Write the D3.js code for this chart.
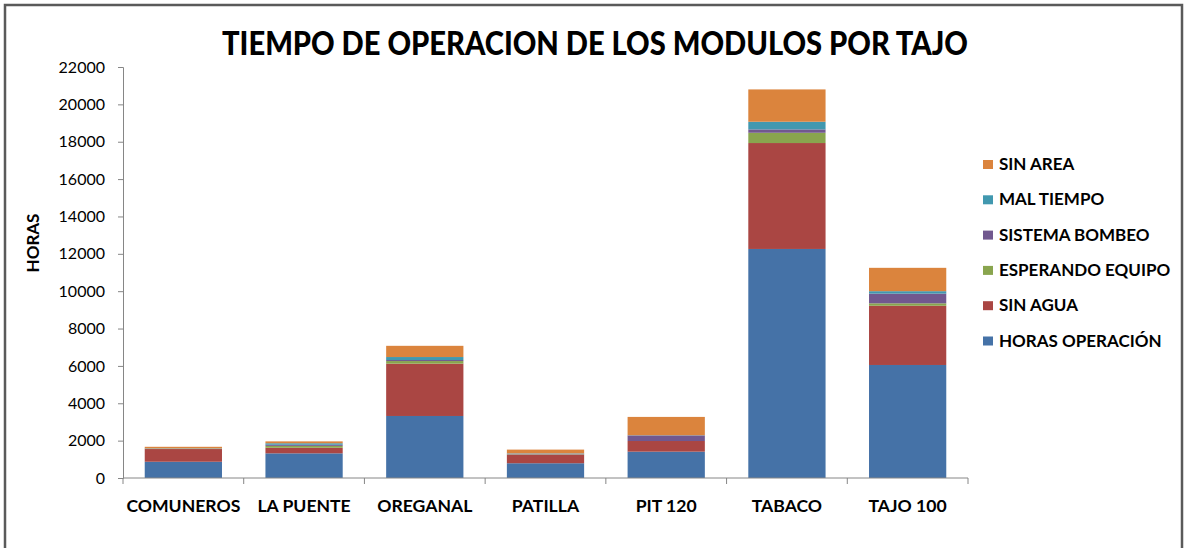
<!DOCTYPE html>
<html><head><meta charset="utf-8">
<script src="https://cdn.jsdelivr.net/npm/d3@7"></script>
<style>body{margin:0;background:#fff;} svg{display:block;font-family:Lato,"Open Sans",sans-serif;}</style>
</head><body>
<svg id="c" width="1186" height="548"></svg>
<script>
const categories = ["COMUNEROS","LA PUENTE","OREGANAL","PATILLA","PIT 120","TABACO","TAJO 100"];
const seriesNames = ["HORAS OPERACIÓN","SIN AGUA","ESPERANDO EQUIPO","SISTEMA BOMBEO","MAL TIEMPO","SIN AREA"];
const horasOperacion = [870, 1320, 3320, 790, 1410, 12260, 6050];
const sinAgua        = [680, 300, 2800, 460, 570, 5670, 3170];
const esperandoEquipo= [20, 100, 140, 20, 0, 550, 130];
const sistemaBombeo  = [10, 60, 55, 30, 300, 180, 520];
const malTiempo      = [10, 80, 160, 20, 10, 410, 130];
const sinArea        = [80, 100, 600, 200, 980, 1730, 1250];
const yTicks = [0,2000,4000,6000,8000,10000,12000,14000,16000,18000,20000,22000];
const colors = ["#4572A7","#AA4643","#89A54E","#71588F","#4198AF","#DB843D"];

const seriesValues = [horasOperacion, sinAgua, esperandoEquipo, sistemaBombeo, malTiempo, sinArea];
const rows = categories.map((c,i)=>{const r={cat:c}; seriesNames.forEach((s,j)=>r[s]=seriesValues[j][i]); return r;});
const stacked = d3.stack().keys(seriesNames)(rows);

const svg = d3.select("#c");
// outer frame
svg.append("rect").attr("x",5).attr("y",5).attr("width",1177).attr("height",560)
  .attr("fill","none").attr("stroke","#5a5a5a").attr("stroke-width",2.5);

const L=123, R=968, T=67, B=478;
const x = d3.scaleBand().domain(categories).range([L,R]).paddingInner(0.36).paddingOuter(0.18);
const y = d3.scaleLinear().domain([0,22000]).range([B,T]);

// bars
svg.append("g").selectAll("g").data(stacked).join("g")
  .attr("fill",(d,i)=>colors[i])
  .selectAll("rect").data(d=>d).join("rect")
  .attr("x",d=>x(d.data.cat)).attr("width",x.bandwidth())
  .attr("y",d=>y(d[1])).attr("height",d=>Math.max(0,y(d[0])-y(d[1])));

// y axis
const ya = svg.append("g").attr("transform",`translate(${L},0)`)
  .call(d3.axisLeft(y).tickValues(yTicks).tickSize(5).tickPadding(13).tickFormat(d3.format("d")));
ya.select(".domain").attr("stroke","#868686");
ya.selectAll(".tick line").attr("stroke","#868686");
ya.selectAll("text").attr("font-size",16).attr("fill","#000").attr("font-family","Lato");

// x axis
const step = (R-L)/categories.length;
const xa = svg.append("g").attr("transform",`translate(0,${B})`);
xa.append("line").attr("x1",L).attr("x2",R).attr("stroke","#868686");
d3.range(categories.length+1).forEach(i=>{
  xa.append("line").attr("x1",L+i*step).attr("x2",L+i*step).attr("y1",0).attr("y2",6).attr("stroke","#868686");
});
xa.selectAll("text.cat").data(categories).join("text").attr("class","cat")
  .attr("x",d=>x(d)+x.bandwidth()/2).attr("y",34).attr("text-anchor","middle")
  .attr("font-size",17.6).attr("font-weight","bold").text(d=>d);

// title
svg.append("text").attr("x",595).attr("y",55).attr("text-anchor","middle")
  .attr("font-size",33).attr("font-weight","900").attr("textLength",746).attr("lengthAdjust","spacingAndGlyphs")
  .text("TIEMPO DE OPERACION DE LOS MODULOS POR TAJO");

// y label
svg.append("text").attr("transform","translate(39,243) rotate(-90)").attr("text-anchor","middle")
  .attr("font-size",17).attr("font-weight","bold").text("HORAS");

// legend
const legendOrder = seriesNames.map((s,i)=>i).reverse();
const lg = svg.append("g");
legendOrder.forEach((si,k)=>{
  const yy = 164 + k*35.3;
  lg.append("rect").attr("x",983).attr("y",yy-4).attr("width",10).attr("height",9).attr("fill",colors[si]);
  lg.append("text").attr("x",999).attr("y",yy+6).attr("font-size",17).attr("font-weight","bold").text(seriesNames[si]);
});
</script>
</body></html>
